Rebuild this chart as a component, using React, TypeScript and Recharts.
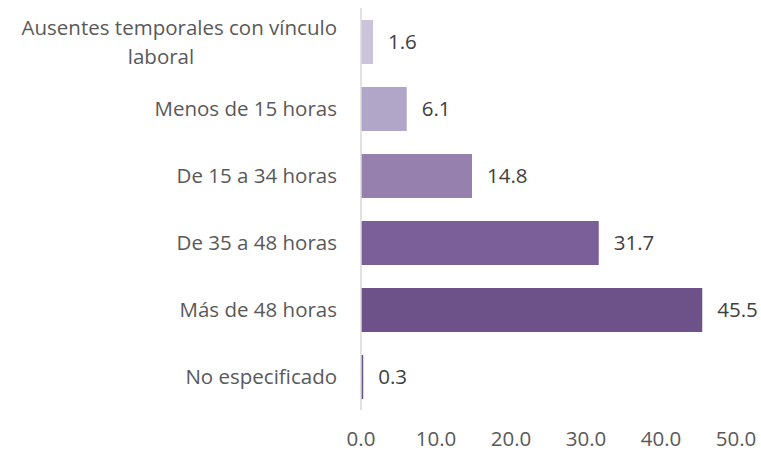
import { BarChart, Bar, XAxis, YAxis, Cell, LabelList } from "recharts";

const categories = [
  "Ausentes temporales con vínculo laboral",
  "Menos de 15 horas",
  "De 15 a 34 horas",
  "De 35 a 48 horas",
  "Más de 48 horas",
  "No especificado",
];
const values = [1.6, 6.1, 14.8, 31.7, 45.5, 0.3];
const colors = ["#CBC3D9", "#B2A6C8", "#9580AE", "#7B5F99", "#6C5289", "#6C5289"];
const xTicks = [0, 10, 20, 30, 40, 50];

const data = categories.map((name, i) => ({ name, value: values[i] }));

const FONT = "'Open Sans', sans-serif";
const FS = 20.5;

const CategoryTick = (props: any) => {
  const { x, y, payload } = props;
  const text: string = payload.value;
  if (text.startsWith("Ausentes")) {
    return (
      <g>
        <text x={x} y={y - 14} dy="0.35em" textAnchor="end" fill="#595959" fontSize={FS} fontFamily={FONT}>
          Ausentes temporales con vínculo
        </text>
        <text x={x - 176} y={y + 15} dy="0.35em" textAnchor="middle" fill="#595959" fontSize={FS} fontFamily={FONT}>
          laboral
        </text>
      </g>
    );
  }
  return (
    <text x={x} y={y} dy="0.35em" textAnchor="end" fill="#595959" fontSize={FS} fontFamily={FONT}>
      {text}
    </text>
  );
};

export default function App() {
  return (
    <div style={{ position: "absolute", left: 0, top: 0, background: "#fff" }}>
      <BarChart
        width={761}
        height={451}
        data={data}
        layout="vertical"
        margin={{ top: 8, right: 25, left: 0, bottom: 0 }}
        barCategoryGap={23}
      >
        <XAxis
          type="number"
          domain={[0, 50]}
          ticks={xTicks}
          axisLine={false}
          tickLine={false}
          height={41}
          tickFormatter={(v: number) => v.toFixed(1)}
          tick={{ fill: "#595959", fontSize: FS, fontFamily: FONT, dy: 13 }}
        />
        <YAxis
          type="category"
          dataKey="name"
          width={361}
          axisLine={{ stroke: "#D9D9D9", strokeWidth: 1.5 }}
          tickLine={false}
          tick={<CategoryTick />}
          tickMargin={18}
        />
        <Bar dataKey="value" isAnimationActive={false} barSize={44}>
          {data.map((d, i) => (
            <Cell key={d.name} fill={colors[i]} />
          ))}
          <LabelList
            dataKey="value"
            position="right"
            offset={15}
            formatter={(v: any) => Number(v).toFixed(1)}
            style={{ fill: "#404040", fontSize: FS, fontFamily: FONT }}
          />
        </Bar>
      </BarChart>
    </div>
  );
}
